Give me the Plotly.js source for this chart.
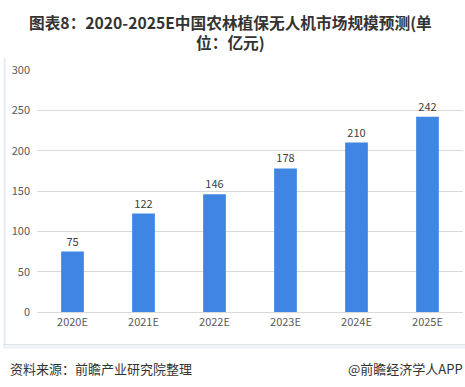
<!DOCTYPE html>
<html>
<head>
<meta charset="utf-8">
<script src="https://cdn.plot.ly/plotly-3.0.1.min.js"></script>
<style>
html,body{margin:0;padding:0;background:#fff;}
#chart{width:465px;height:387px;}
</style>
</head>
<body>
<div id="chart"></div>
<script>
var categories = ["2020E","2021E","2022E","2023E","2024E","2025E"];
var values = [75,122,146,178,210,242];
var yTicks = [0,50,100,150,200,250,300];
var titleText = '图表8：2020-2025E中国农林植保无人机市场规模预测(单<br>位：亿元)';

var font = '"Microsoft YaHei","Noto Sans CJK SC","Noto Sans",sans-serif';

var trace = {
  type: 'bar',
  x: categories,
  y: values,
  text: values.map(String),
  textposition: 'outside',
  cliponaxis: false,
  textfont: {family: font, size: 11, color: '#404040'},
  marker: {color: '#3f86e4'},
  hoverinfo: 'none'
};

var layout = {
  width: 465, height: 387,
  margin: {l: 37, r: 2, t: 70, b: 75},
  paper_bgcolor: '#ffffff',
  plot_bgcolor: '#ffffff',
  showlegend: false,
  bargap: 0.68,
  xaxis: {
    type: 'category',
    tickfont: {family: font, size: 11, color: '#595959'},
    showline: true, linecolor: '#d9d9d9', linewidth: 1,
    ticks: '', showgrid: false, fixedrange: true
  },
  yaxis: {
    range: [0, 300],
    tickvals: yTicks,
    tickfont: {family: font, size: 11, color: '#595959'},
    showgrid: true, gridcolor: '#d9d9d9', gridwidth: 1,
    zeroline: false, showline: false, ticks: '',
    ticklabelstandoff: 6, fixedrange: true
  },
  shapes: [
    {type: 'line', xref: 'paper', yref: 'paper', x0: -0.076, x1: -0.076, y0: 1.05, y1: -0.135,
     line: {color: '#e6ecf5', width: 2}},
    {type: 'line', xref: 'paper', yref: 'paper', x0: -0.08, x1: 1.01, y0: -0.135, y1: -0.135,
     line: {color: '#d9dde3', width: 1}},
    {type: 'rect', xref: 'paper', yref: 'paper', x0: -0.08, x1: 1.01, y0: -0.138, y1: -0.152,
     line: {width: 0}, fillcolor: '#eef2f8'}
  ],
  annotations: [
    {text: '<b>' + titleText + '</b>', xref: 'paper', yref: 'paper',
     x: 0.455, y: 1.252, xanchor: 'center', yanchor: 'top', showarrow: false,
     align: 'center',
     font: {family: font, size: 15.7, color: '#333333'}},
    {text: '资料来源：前瞻产业研究院整理', xref: 'paper', yref: 'paper',
     x: -0.068, y: -0.235, xanchor: 'left', yanchor: 'middle', showarrow: false,
     font: {family: font, size: 13, color: '#333333'}},
    {text: '@前瞻经济学人APP', xref: 'paper', yref: 'paper',
     x: 1.005, y: -0.235, xanchor: 'right', yanchor: 'middle', showarrow: false,
     font: {family: font, size: 13, color: '#333333'}}
  ]
};

Plotly.newPlot('chart', [trace], layout, {displayModeBar: false, staticPlot: true});
</script>
</body>
</html>
